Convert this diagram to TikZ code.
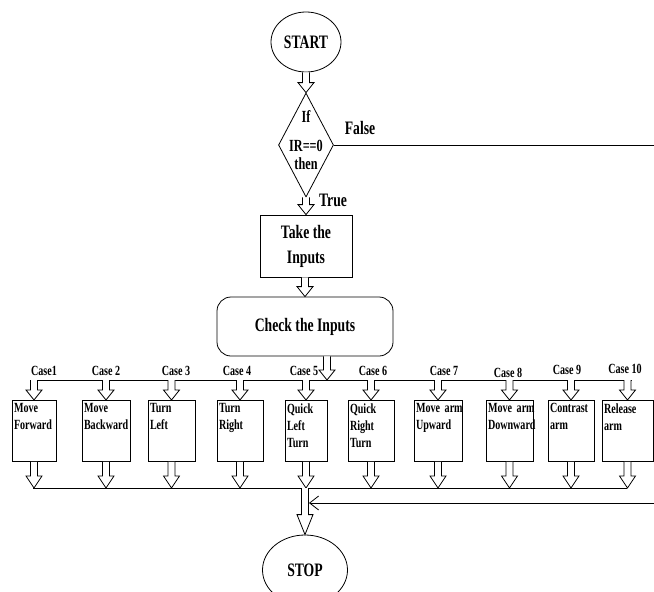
\documentclass[tikz,border=0pt]{standalone}
\usepackage{fontspec}
\setmainfont{Liberation Serif}[FakeStretch=0.72]
\usetikzlibrary{arrows.meta,positioning,shapes.geometric,calc}
\newcommand{\casetext}[1]{\parbox[c][55pt][t]{\linewidth}{\raggedright #1}}
% hollow block arrow pointing down, from #2 to #3, head length #1
\newcommand{\blockarrow}[3][10pt]{%
  \draw[fill=white] let \p1=(#2), \p2=(#3) in
    (\x2-3.5pt,\y1) -- (\x2-3.5pt,\y2+#1) -- (\x2-8pt,\y2+#1) -- (\x2,\y2)
    -- (\x2+8pt,\y2+#1) -- (\x2+3.5pt,\y2+#1) -- (\x2+3.5pt,\y1);}
\tikzset{
  every picture/.style={line width=0.8pt},
  big/.style={font=\fontsize{19}{25}\selectfont\bfseries},
  small/.style={font=\fontsize{14}{17}\selectfont\bfseries},
  terminal/.style={ellipse, draw, big, minimum width=#1, inner sep=0pt},
  stepbox/.style={draw, big, align=center, minimum width=#1, minimum height=62pt},
  checkbox/.style={draw, big, rounded corners=14pt, minimum width=176pt, minimum height=59pt},
  decision/.style={diamond, draw, inner sep=0pt, minimum width=55pt, minimum height=104pt},
  casebox/.style={draw, small, anchor=north, text width=#1, inner xsep=2pt, inner ysep=3pt},
  retarrow/.style={-{Straight Barb[length=9pt, width=14pt]}},
}
\begin{document}
\begin{tikzpicture}[x=1pt, y=-1pt]
  \useasboundingbox (0,0) rectangle (654,592);
  \node[terminal=70pt, minimum height=60pt] (start) at (306,42) {START};
  \node[decision, label={[font=\fontsize{17}{18}\selectfont\bfseries, align=center, yshift=5pt]center:If\\[11pt]IR==0\\then}] (cond) at (306,145) {};
  \node[stepbox=92pt] (take) at (306,246) {Take the\\Inputs};
  \node[checkbox] (check) at (305,326.5) {Check the Inputs};

  \node[big] (lfalse) at (360,128) {False};
  \node[big] (ltrue) at (333,200) {True};

  % case labels
  \node[small] (k1) at (44,371) {Case1};
  \node[small] (k2) at (106,371) {Case 2};
  \node[small] (k3) at (176,371) {Case 3};
  \node[small] (k4) at (237,371) {Case 4};
  \node[small] (k5) at (304,371) {Case 5};
  \node[small] (k6) at (373,371) {Case 6};
  \node[small] (k7) at (444,371) {Case 7};
  \node[small] (k8) at (508,373) {Case 8};
  \node[small] (k9) at (567,370) {Case 9};
  \node[small] (k10) at (625,369) {Case 10};

  % case boxes
  \node[casebox=40pt] (c1) at (34,400) {\casetext{Move\\Forward}};
  \node[casebox=44pt] (c2) at (106,400) {\casetext{Move\\Backward}};
  \node[casebox=43pt] (c3) at (171.5,400) {\casetext{Turn\\Left}};
  \node[casebox=42pt] (c4) at (240,400) {\casetext{Turn\\Right}};
  \node[casebox=38pt] (c5) at (306,400) {\casetext{Quick\\Left\\Turn}};
  \node[casebox=42pt] (c6) at (371,400) {\casetext{Quick\\Right\\Turn}};
  \node[casebox=44pt] (c7) at (438,400) {\casetext{Move~arm\\Upward}};
  \node[casebox=43pt] (c8) at (509.5,400) {\casetext{Move~arm\\Downward}};
  \node[casebox=42pt] (c9) at (571,400) {\casetext{Contrast\\arm}};
  \node[casebox=47pt] (c10) at (627.5,400) {\casetext{Release\\arm}};

  \node[terminal=85pt, minimum height=70pt] (stop) at (305,570) {STOP};

  \coordinate (busL) at (33,380);
  \coordinate (busR) at (632,380);
  \coordinate (lowL) at (33,488);
  \coordinate (lowR) at (627,488);
  \coordinate (far) at (664,503);
  \coordinate (ret) at (309,503);

  \blockarrow{start.south}{cond.north}
  \blockarrow{cond.south}{take.north}
  \blockarrow{take.south}{check.north}
  \blockarrow{[xshift=22pt]check.south}{[xshift=22pt]check.south |- busL}
  \draw (busL) -- (busR);
  \draw (lowL) -- (lowR);
  \foreach \i in {1,...,10} {
    \blockarrow{c\i.north |- busL}{c\i.north}
    \blockarrow[12pt]{c\i.south}{c\i.south |- lowL}
  }
  \blockarrow[20pt]{stop.north |- lowL}{stop.north}
  \draw[retarrow] (cond.east) -| (far) -- (ret);
\end{tikzpicture}
\end{document}
